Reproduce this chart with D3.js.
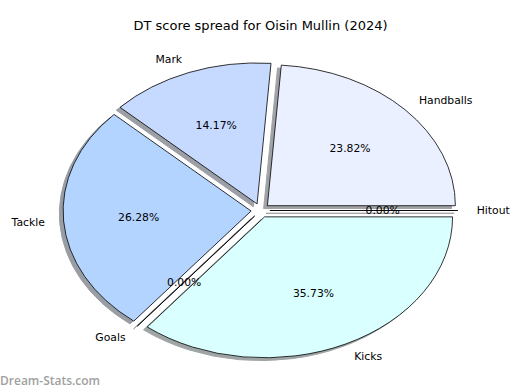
<!DOCTYPE html>
<html>
<head>
<meta charset="utf-8">
<script src="https://cdn.jsdelivr.net/npm/d3@7"></script>
<style>
  body { margin: 0; background: #fff; }
  svg { display: block; }
</style>
</head>
<body>
<div id="chart"></div>
<script>
const labels = ['Handballs', 'Mark', 'Tackle', 'Goals', 'Kicks', 'Hitout'];
const values = [23.82, 14.17, 26.28, 0, 35.73, 0];
const colors = ['#eaf0ff', '#c6d9ff', '#b3d4ff', '#cfe0ff', '#d9ffff', '#e0ecff'];
const explode = [0.05, 0.05, 0.05, 0.05, 0.05, 0.05];

const W = 520, H = 390;
const cx = 260.5, cy = 210.5;
const rx = 188, ry = 141;

const svg = d3.select('#chart')
    .append('svg')
    .attr('width', W)
    .attr('height', H);

// matplotlib goes counter-clockwise from 3 o'clock
const pie = d3.pie()
    .sort(null)
    .startAngle(Math.PI / 2)
    .endAngle(Math.PI / 2 - 2 * Math.PI)
    .value(d => d);

const arcs = pie(values);
const arc = d3.arc().innerRadius(0).outerRadius(1);

// d3 angle -> math angle
const theta = a => Math.PI / 2 - a;

arcs.forEach((d, i) => {
    const mid = theta((d.startAngle + d.endAngle) / 2);
    d.ox = explode[i] * rx * Math.cos(mid);
    d.oy = -explode[i] * ry * Math.sin(mid);
    d.mid = mid;
});

function shade(c) {
    const col = d3.rgb(c);
    return d3.rgb(col.r * 0.3, col.g * 0.3, col.b * 0.3).toString();
}

// shadows underneath everything
svg.append('g').selectAll('path')
    .data(arcs)
    .join('path')
    .attr('transform', d => `translate(${cx + d.ox - 0.02 * rx},${cy + d.oy + 0.02 * ry}) scale(${rx},${ry})`)
    .attr('d', arc)
    .attr('fill', (d, i) => shade(colors[i]))
    .attr('stroke', (d, i) => shade(colors[i]))
    .attr('stroke-width', 1)
    .attr('vector-effect', 'non-scaling-stroke')
    .attr('opacity', 0.5);

svg.append('g').selectAll('path')
    .data(arcs)
    .join('path')
    .attr('transform', d => `translate(${cx + d.ox},${cy + d.oy}) scale(${rx},${ry})`)
    .attr('d', arc)
    .attr('fill', (d, i) => colors[i])
    .attr('stroke', '#000')
    .attr('stroke-width', 0.8)
    .attr('stroke-linejoin', 'round')
    .attr('vector-effect', 'non-scaling-stroke');

const font = 'DejaVu Sans, sans-serif';

// outer labels
svg.append('g').selectAll('text')
    .data(arcs)
    .join('text')
    .attr('x', d => cx + d.ox + 1.1 * rx * Math.cos(d.mid))
    .attr('y', d => cy + d.oy - 1.1 * ry * Math.sin(d.mid))
    .attr('text-anchor', d => Math.cos(d.mid) > 0 ? 'start' : 'end')
    .attr('dominant-baseline', 'central')
    .style('font-family', font)
    .style('font-size', '10.8px')
    .text((d, i) => labels[i]);

// percentages
const total = d3.sum(values);
svg.append('g').selectAll('text')
    .data(arcs)
    .join('text')
    .attr('x', d => cx + d.ox + 0.6 * rx * Math.cos(d.mid))
    .attr('y', d => cy + d.oy - 0.6 * ry * Math.sin(d.mid))
    .attr('text-anchor', 'middle')
    .attr('dominant-baseline', 'central')
    .style('font-family', font)
    .style('font-size', '10.8px')
    .text(d => (d.value / total * 100).toFixed(2) + '%');

svg.append('text')
    .attr('x', 260.5)
    .attr('y', 25)
    .attr('text-anchor', 'middle')
    .attr('dominant-baseline', 'central')
    .style('font-family', font)
    .style('font-size', '13px')
    .text('DT score spread for Oisin Mullin (2024)');

svg.append('text')
    .attr('x', 0)
    .attr('y', 385)
    .style('font-family', 'Open Sans, sans-serif')
    .style('font-size', '12px')
    .style('font-weight', 600)
    .attr('fill', '#a0a0a0')
    .text('Dream-Stats.com');
</script>
</body>
</html>
